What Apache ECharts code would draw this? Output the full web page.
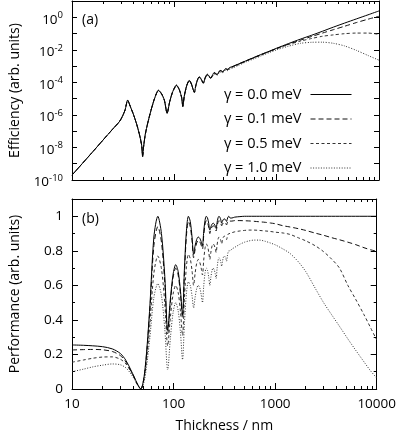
<!DOCTYPE html>
<html><head><meta charset="utf-8">
<script src="https://cdn.jsdelivr.net/npm/echarts@6/dist/echarts.min.js"></script>
<style>html,body{margin:0;padding:0;background:#fff}#c{width:399px;height:438px}</style>
</head><body><div id="c"></div>
<script>
// ---------- data ----------
const seriesNames = ['γ = 0.0 meV', 'γ = 0.1 meV', 'γ = 0.5 meV', 'γ = 1.0 meV'];

// panel (a): efficiency vs thickness (nm)
const thicknessTop = [10, 15, 20, 25, 29, 31, 33, 35, 37, 40, 43, 46, 48, 49, 50, 52, 55, 59, 64, 70,
  75, 80, 85, 90, 96, 105, 112, 118, 121, 125, 132, 140, 147, 153, 157, 162, 168, 175, 183, 192,
  200, 210, 218, 227, 236, 245, 253, 262, 271, 280, 289, 297, 306, 315, 324, 332, 341, 350, 380, 420,
  500, 600, 720, 850, 1000, 1300, 1700, 2200, 2800, 3600, 4600, 6000, 7800, 10000];

const effG00 = [2.0e-10, 3.5e-9, 2.75e-8, 1.35e-7, 3.8e-7, 7.9e-7, 2.0e-6, 8.1e-6, 3.5e-6, 1.0e-6,
  2.5e-7, 5.0e-8, 1.26e-8, 2.7e-9, 1.0e-8, 6.3e-8, 3.2e-7, 1.8e-6, 1.0e-5, 3.3e-5,
  2.0e-5, 7.9e-6, 1.23e-6, 6.3e-6, 2.5e-5, 6.8e-5, 3.5e-5, 1.12e-5, 3.2e-6, 1.4e-5,
  6.3e-5, 1.35e-4, 7.9e-5, 3.5e-5, 2.4e-5, 6.3e-5, 1.4e-4,
  2.19e-4, 1.58e-4, 8.9e-5, 1.9e-4, 3.16e-4, 2.5e-4, 1.78e-4, 2.8e-4, 3.98e-4, 3.55e-4,
  3.0e-4, 4.2e-4, 5.4e-4, 5.0e-4, 4.5e-4, 5.5e-4, 6.8e-4, 6.6e-4, 6.3e-4, 7.2e-4,
  8.3e-4, 1.0e-3, 1.32e-3, 2.1e-3, 3.4e-3, 5.5e-3, 8.3e-3, 1.26e-2, 2.4e-2, 4.5e-2,
  7.9e-2, 0.138, 0.251, 0.437, 0.79, 1.41, 2.45];
const effG01 = [2.0e-10, 3.5e-9, 2.75e-8, 1.35e-7, 3.8e-7, 7.9e-7, 2.0e-6, 8.0e-6, 3.5e-6, 1.0e-6,
  2.5e-7, 5.0e-8, 1.27e-8, 2.8e-9, 1.02e-8, 6.3e-8, 3.2e-7, 1.8e-6, 1.0e-5, 3.25e-5,
  2.0e-5, 7.9e-6, 1.25e-6, 6.3e-6, 2.5e-5, 6.7e-5, 3.5e-5, 1.12e-5, 3.3e-6, 1.4e-5,
  6.2e-5, 1.33e-4, 7.9e-5, 3.5e-5, 2.45e-5, 6.2e-5, 1.38e-4,
  2.15e-4, 1.57e-4, 9.0e-5, 1.88e-4, 3.1e-4, 2.48e-4, 1.8e-4, 2.75e-4, 3.9e-4, 3.5e-4,
  3.0e-4, 4.1e-4, 5.3e-4, 4.95e-4, 4.5e-4, 5.4e-4, 6.7e-4, 6.5e-4, 6.25e-4, 7.1e-4,
  8.2e-4, 9.9e-4, 1.3e-3, 2.07e-3, 3.35e-3, 5.4e-3, 7.9e-3, 1.2e-2, 2.2e-2, 3.9e-2,
  6.6e-2, 0.107, 0.174, 0.28, 0.47, 0.76, 1.15];
const effG05 = [2.0e-10, 3.5e-9, 2.75e-8, 1.35e-7, 3.8e-7, 7.9e-7, 2.0e-6, 7.9e-6, 3.5e-6, 1.0e-6,
  2.5e-7, 5.0e-8, 1.3e-8, 2.9e-9, 1.05e-8, 6.3e-8, 3.2e-7, 1.8e-6, 9.8e-6, 3.2e-5,
  1.95e-5, 7.8e-6, 1.3e-6, 6.2e-6, 2.45e-5, 6.5e-5, 3.4e-5, 1.12e-5, 3.5e-6, 1.38e-5,
  6.1e-5, 1.3e-4, 7.7e-5, 3.5e-5, 2.5e-5, 6.1e-5, 1.35e-4,
  2.1e-4, 1.55e-4, 9.2e-5, 1.82e-4, 2.95e-4, 2.4e-4, 1.8e-4, 2.6e-4, 3.65e-4, 3.3e-4,
  2.9e-4, 3.85e-4, 4.9e-4, 4.65e-4, 4.3e-4, 5.1e-4, 6.2e-4, 6.05e-4, 5.9e-4, 6.6e-4,
  7.5e-4, 9.1e-4, 1.2e-3, 2.0e-3, 3.15e-3, 5.0e-3, 7.9e-3, 1.17e-2, 2.1e-2, 3.4e-2,
  5.0e-2, 6.8e-2, 8.3e-2, 9.8e-2, 0.107, 0.107, 0.089];
const effG10 = [2.0e-10, 3.5e-9, 2.75e-8, 1.35e-7, 3.8e-7, 7.9e-7, 2.0e-6, 7.6e-6, 3.4e-6, 1.0e-6,
  2.5e-7, 5.2e-8, 1.4e-8, 3.3e-9, 1.1e-8, 6.3e-8, 3.1e-7, 1.75e-6, 9.5e-6, 3.0e-5,
  1.9e-5, 7.7e-6, 1.4e-6, 6.0e-6, 2.35e-5, 6.1e-5, 3.3e-5, 1.15e-5, 3.9e-6, 1.35e-5,
  5.8e-5, 1.22e-4, 7.5e-5, 3.6e-5, 2.7e-5, 6.0e-5, 1.28e-4,
  1.95e-4, 1.48e-4, 9.5e-5, 1.72e-4, 2.7e-4, 2.25e-4, 1.75e-4, 2.4e-4, 3.3e-4, 3.05e-4,
  2.75e-4, 3.5e-4, 4.4e-4, 4.2e-4, 3.95e-4, 4.6e-4, 5.5e-4, 5.4e-4, 5.3e-4, 5.9e-4,
  6.6e-4, 8.2e-4, 1.08e-3, 1.78e-3, 2.8e-3, 4.5e-3, 6.8e-3, 1.0e-2, 1.66e-2, 2.5e-2,
  2.9e-2, 2.95e-2, 2.5e-2, 1.74e-2, 9.3e-3, 4.5e-3, 2.3e-3];

// panel (b): performance vs thickness (nm)
const thicknessBottom = [10, 13, 16, 20, 25, 30, 34, 38, 41, 44, 47.5,
  52, 58, 64, 70,
  76, 82, 87.5, 93, 99, 105,
  111, 117, 122.5, 128, 134, 140,
  146, 152, 157.5, 163, 169, 175,
  181, 187, 192.5, 198, 204, 210,
  216, 222, 227.5, 233, 239, 245,
  251, 257, 262.5, 268, 274, 280,
  286, 292, 297.5, 303, 309, 315,
  321, 327, 332.5, 338, 344, 350,
  360, 375, 400, 450, 500, 550, 620, 700, 800, 900, 1000, 1200, 1400, 1700, 2000,
  2500, 3000, 3600, 4300, 5200, 6200, 7500, 8700, 10000];

const perfG00 = [0.255, 0.253, 0.25, 0.245, 0.232, 0.205, 0.165, 0.11, 0.07, 0.03, 0.0,
  0.1, 0.45, 0.88, 1.0,
  0.9, 0.65, 0.34, 0.52, 0.665, 0.72,
  0.68, 0.566, 0.43, 0.70, 0.92, 1.0,
  0.97, 0.88, 0.78, 0.83, 0.866, 0.88,
  0.873, 0.853, 0.83, 0.91, 0.976, 1.0,
  0.99, 0.958, 0.92, 0.939, 0.954, 0.96,
  0.956, 0.944, 0.93, 0.963, 0.99, 1.0,
  0.994, 0.979, 0.96, 0.972, 0.981, 0.985,
  0.983, 0.977, 0.97, 0.984, 0.996, 1.0,
  0.99, 0.99, 0.995, 0.998, 1.0, 1.0, 1.0, 1.0, 1.0, 1.0, 1.0, 1.0, 1.0, 1.0, 1.0,
  1.0, 1.0, 1.0, 1.0, 1.0, 1.0, 1.0, 1.0, 1.0];
const perfG01 = [0.226, 0.228, 0.229, 0.227, 0.217, 0.193, 0.156, 0.104, 0.066, 0.028, 0.0,
  0.095, 0.43, 0.83, 0.94,
  0.85, 0.61, 0.32, 0.50, 0.646, 0.70,
  0.66, 0.546, 0.41, 0.673, 0.89, 0.97,
  0.94, 0.859, 0.76, 0.807, 0.846, 0.86,
  0.853, 0.833, 0.81, 0.888, 0.951, 0.975,
  0.964, 0.935, 0.90, 0.921, 0.939, 0.945,
  0.941, 0.929, 0.915, 0.943, 0.966, 0.975,
  0.969, 0.959, 0.945, 0.954, 0.962, 0.965,
  0.963, 0.957, 0.95, 0.962, 0.971, 0.975,
  0.972, 0.972, 0.975, 0.975, 0.974, 0.973, 0.971, 0.968, 0.965, 0.961, 0.957, 0.945, 0.938, 0.928, 0.918,
  0.902, 0.89, 0.876, 0.864, 0.85, 0.836, 0.818, 0.806, 0.797];
const perfG05 = [0.155, 0.168, 0.178, 0.185, 0.186, 0.172, 0.145, 0.1, 0.064, 0.027, 0.0,
  0.08, 0.35, 0.67, 0.77,
  0.696, 0.494, 0.25, 0.415, 0.55, 0.6,
  0.559, 0.446, 0.31, 0.53, 0.713, 0.78,
  0.754, 0.685, 0.6, 0.67, 0.729, 0.75,
  0.735, 0.70, 0.66, 0.745, 0.814, 0.84,
  0.827, 0.792, 0.75, 0.792, 0.827, 0.84,
  0.833, 0.813, 0.79, 0.832, 0.867, 0.88,
  0.874, 0.859, 0.84, 0.861, 0.879, 0.885,
  0.882, 0.874, 0.865, 0.881, 0.895, 0.9,
  0.9, 0.905, 0.91, 0.915, 0.918, 0.92, 0.92, 0.918, 0.915, 0.912, 0.908, 0.903, 0.895, 0.875, 0.858,
  0.828, 0.795, 0.752, 0.70, 0.60, 0.52, 0.43, 0.355, 0.284];
const perfG10 = [0.1, 0.115, 0.128, 0.138, 0.145, 0.14, 0.122, 0.088, 0.058, 0.025, 0.0,
  0.06, 0.28, 0.53, 0.61,
  0.54, 0.345, 0.11, 0.293, 0.444, 0.5,
  0.453, 0.325, 0.17, 0.382, 0.556, 0.62,
  0.599, 0.54, 0.47, 0.531, 0.581, 0.6,
  0.586, 0.547, 0.5, 0.594, 0.671, 0.7,
  0.686, 0.647, 0.6, 0.647, 0.686, 0.7,
  0.691, 0.668, 0.64, 0.696, 0.743, 0.76,
  0.753, 0.733, 0.71, 0.738, 0.761, 0.77,
  0.766, 0.755, 0.74, 0.768, 0.791, 0.8,
  0.8, 0.81, 0.82, 0.838, 0.85, 0.857, 0.862, 0.862, 0.855, 0.845, 0.835, 0.81, 0.785, 0.735, 0.68,
  0.58, 0.50, 0.43, 0.363, 0.29, 0.225, 0.157, 0.105, 0.064];

// tick values / labels
const xMajorTicks = [10, 100, 1000, 10000];
const xMinorTicks = [20, 30, 40, 50, 60, 70, 80, 90, 200, 300, 400, 500, 600, 700, 800, 900,
  2000, 3000, 4000, 5000, 6000, 7000, 8000, 9000];
const yTopTicks = [1e-10, 1e-9, 1e-8, 1e-7, 1e-6, 1e-5, 1e-4, 1e-3, 1e-2, 1e-1, 1, 10];
const yTopLabelValues = [1e-10, 1e-8, 1e-6, 1e-4, 1e-2, 1];
const yBottomLabels = ['0', '0.2', '0.4', '0.6', '0.8', '1'];

// ---------- chart ----------
const FONT = 'Open Sans';
const chart = echarts.init(document.getElementById('c'), null, {renderer: 'canvas'});

function xAx(grid, pos, minor, extra) {
  return Object.assign({
    type: 'log', logBase: 10, min: 10, max: 10000, gridIndex: grid, position: pos,
    splitNumber: 3,
    axisLine: {show: !minor, onZero: false, lineStyle: {color: '#000', width: 1}},
    axisTick: minor
      ? {show: true, inside: true, length: 3, customValues: xMinorTicks, lineStyle: {color: '#000'}}
      : {show: true, inside: true, length: 6, customValues: xMajorTicks, lineStyle: {color: '#000'}},
    axisLabel: {show: false},
    splitLine: {show: false}
  }, extra || {});
}

function yTopAx(pos, labels) {
  const ax = {
    type: 'log', logBase: 10, min: 1e-10, max: 10, gridIndex: 0, position: pos,
    axisLine: {show: true, onZero: false, lineStyle: {color: '#000'}},
    axisTick: {show: true, inside: true, length: 5, customValues: yTopTicks, lineStyle: {color: '#000'}},
    splitLine: {show: false},
    axisLabel: {show: false}
  };
  if (labels) {
    ax.axisLabel = {
      show: true, margin: 9, color: '#000', fontFamily: FONT, customValues: yTopLabelValues,
      formatter: v => '{b|10}{s|' + Math.round(Math.log10(v)) + '}',
      rich: {
        b: {fontSize: 13.5, fontFamily: FONT, color: '#000', padding: [5, 0, 0, 0]},
        s: {fontSize: 9.5, fontFamily: FONT, color: '#000', padding: [0, 0, 4, 0]}
      }
    };
    ax.name = 'Efficiency (arb. units)';
    ax.nameLocation = 'middle'; ax.nameGap = 50; ax.nameRotate = 90;
    ax.nameTextStyle = {color: '#000', fontSize: 14, fontFamily: FONT};
  }
  return ax;
}

const lineTypes = ['solid', [5, 3], [3, 2.5], [1, 1.6]];
const lineColors = ['#000', '#111', '#333', '#333'];
const effSets = [effG00, effG01, effG05, effG10];
const perfSets = [perfG00, perfG01, perfG05, perfG10];

const series = [];
effSets.forEach((vals, i) => {
  series.push({
    type: 'line', name: seriesNames[i], xAxisIndex: 0, yAxisIndex: 0,
    data: thicknessTop.map((t, k) => [t, vals[k]]),
    symbol: 'none', smooth: 0.25, z: 10 - i,
    lineStyle: {color: lineColors[i], width: 1, type: lineTypes[i]},
    itemStyle: {color: lineColors[i]}
  });
});
perfSets.forEach((vals, i) => {
  series.push({
    type: 'line', name: seriesNames[i], xAxisIndex: 4, yAxisIndex: 2,
    data: thicknessBottom.map((t, k) => [t, vals[k]]),
    symbol: 'none', smooth: 0.3, z: 10 - i,
    lineStyle: {color: lineColors[i], width: 1, type: lineTypes[i]},
    itemStyle: {color: lineColors[i]}
  });
});

const option = {
  animation: false,
  backgroundColor: '#fff',
  textStyle: {fontFamily: FONT},
  grid: [
    {left: 66, right: 20, top: 1, height: 179},
    {left: 66, right: 20, top: 199, height: 190}
  ],
  xAxis: [
    xAx(0, 'bottom', false),
    xAx(0, 'top', false),
    xAx(0, 'bottom', true),
    xAx(0, 'top', true),
    xAx(1, 'bottom', false, {
      axisLabel: {show: true, margin: 8, color: '#000', fontSize: 13.5, fontFamily: FONT,
        customValues: xMajorTicks, formatter: v => String(Math.round(v))},
      name: 'Thickness / nm', nameLocation: 'middle', nameGap: 30,
      nameTextStyle: {color: '#000', fontSize: 14, fontFamily: FONT}
    }),
    xAx(1, 'top', false),
    xAx(1, 'bottom', true),
    xAx(1, 'top', true)
  ],
  yAxis: [
    yTopAx('left', true),
    yTopAx('right', false),
    {
      type: 'value', min: 0, max: 1.1, interval: 0.2, gridIndex: 1, position: 'left',
      axisLine: {show: true, onZero: false, lineStyle: {color: '#000'}},
      axisTick: {show: true, inside: true, length: 6, lineStyle: {color: '#000'}},
      minorTick: {show: true, splitNumber: 2, length: 3, lineStyle: {color: '#000'}},
      splitLine: {show: false},
      axisLabel: {show: true, margin: 9, color: '#000', fontSize: 13.5, fontFamily: FONT, showMaxLabel: false,
        formatter: v => {
          const idx = Math.round(v / 0.2);
          return (Math.abs(v - idx * 0.2) < 1e-6 && idx < yBottomLabels.length) ? yBottomLabels[idx] : '';
        }},
      name: 'Performance (arb. units)', nameLocation: 'middle', nameGap: 50, nameRotate: 90,
      nameTextStyle: {color: '#000', fontSize: 14, fontFamily: FONT}
    },
    {
      type: 'value', min: 0, max: 1.1, interval: 0.2, gridIndex: 1, position: 'right',
      axisLine: {show: true, onZero: false, lineStyle: {color: '#000'}},
      axisTick: {show: true, inside: true, length: 6, lineStyle: {color: '#000'}},
      minorTick: {show: true, splitNumber: 2, length: 3, lineStyle: {color: '#000'}},
      splitLine: {show: false}, axisLabel: {show: false}
    }
  ],
  legend: {
    data: seriesNames, orient: 'vertical', right: 42, top: 82, align: 'right',
    itemWidth: 41, itemHeight: 14, itemGap: 9.5,
    itemStyle: {opacity: 0},
    lineStyle: {width: 1},
    textStyle: {color: '#000', fontSize: 14.5, lineHeight: 14, fontFamily: FONT, padding: [0, 4, 0, 0]},
    selectedMode: false
  },
  graphic: [
    {type: 'text', left: 82, top: 13, style: {text: '(a)', fontSize: 14, fontFamily: FONT, fill: '#000'}},
    {type: 'text', left: 82, top: 212, style: {text: '(b)', fontSize: 14, fontFamily: FONT, fill: '#000'}}
  ],
  series: series
};
chart.setOption(option);
</script>
</body></html>
